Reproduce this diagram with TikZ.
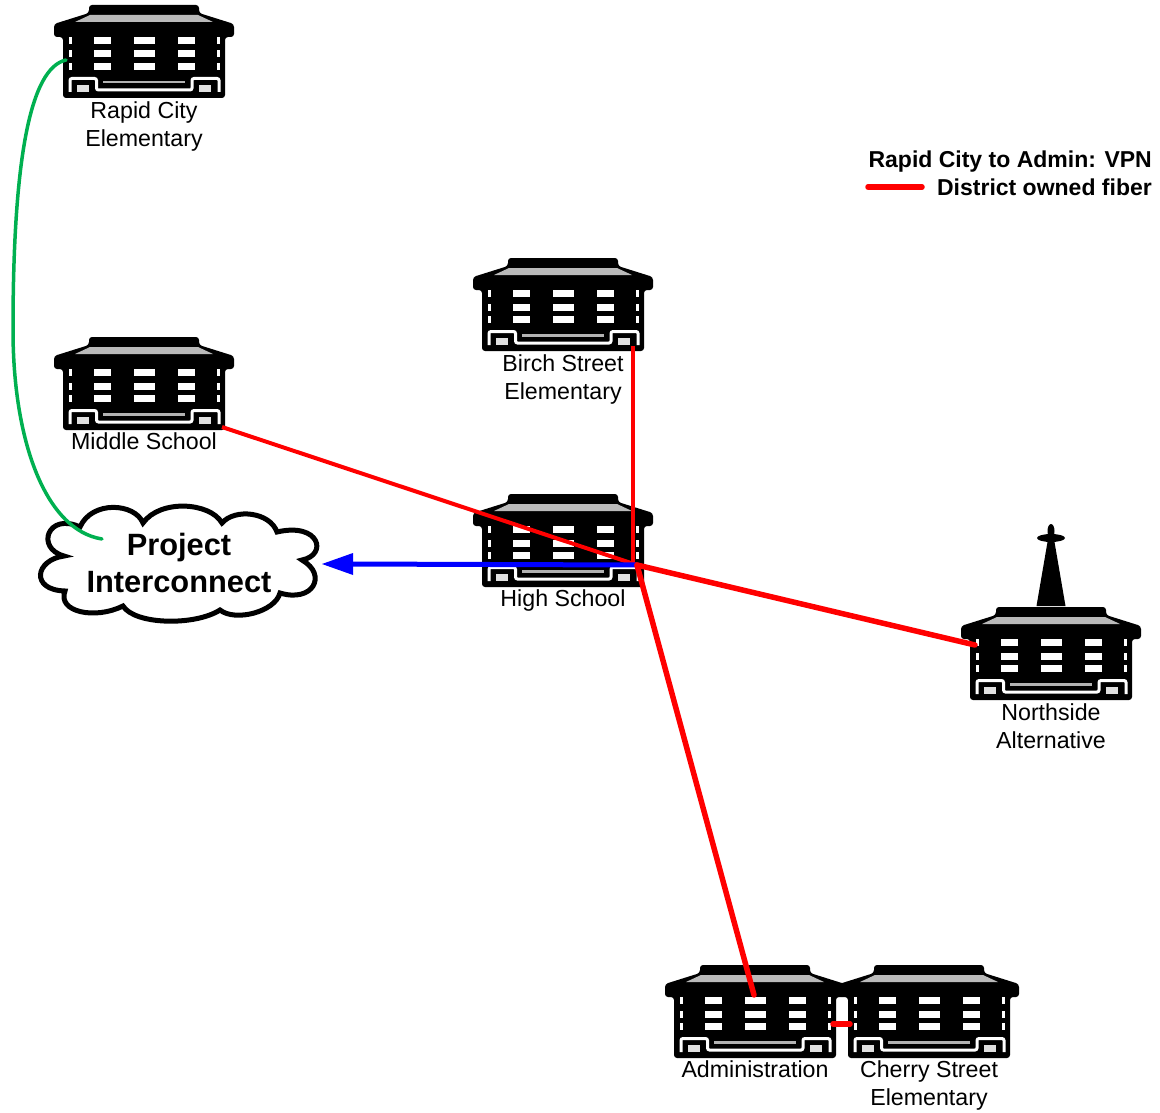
\documentclass[tikz,border=0pt]{standalone}
\usepackage{fontspec}
\setmainfont{Liberation Sans}
\tikzset{
    sitelabel/.style={align=center,font=\fontsize{23.2}{28}\selectfont,inner sep=0pt},
    boldlabel/.style={font=\fontsize{23}{28}\selectfont\bfseries,inner sep=0pt},
    fiberthin/.style={draw=red,line width=4pt},
    fiberthick/.style={draw=red,line width=5.5pt,line cap=round},
    pics/school/.style={code={
        \fill[black,rounded corners=3pt] (-55,0)--(55,0)--(55,8)--(90,19)--(90,32)--(81,32)--(81,93)--(-81,93)--(-81,32)--(-90,32)--(-90,19)--(-55,8)--cycle;
        \fill[black!27] (-69,17)--(-54,10)--(54,10)--(69,17)--cycle;
        \foreach \y in {32,45.5,58} {
            \fill[white] (-75,\y) rectangle (-72,\y+7);
            \fill[white] (73,\y) rectangle (76,\y+7);
            \fill[white] (-50,\y) rectangle (-33,\y+7);
            \fill[white] (-10,\y) rectangle (10.5,\y+7);
            \fill[white] (34,\y) rectangle (50.5,\y+7);
        }
        \draw[white,line width=3pt,rounded corners=2pt] (-74,87)--(-74,73.5)--(-47.5,73.5)--(-47.5,85)--(48,85)--(48,73.5)--(75,73.5)--(75,87);
        \fill[black!30] (-41,76)--(41,76)--(41,78.5)--(-41,78.5)--cycle;
        \fill[black!12] (-67,80) rectangle (-55,87);
        \fill[black!12] (55,80) rectangle (67,87);
    }}
}
\begin{document}
\begin{tikzpicture}[x=1pt,y=-1pt]
    \useasboundingbox (0,0) rectangle (1160,1113);
    \pic at (144,5) {school};
    \pic at (144,337) {school};
    \pic at (563,258) {school};
    \pic at (563,494) {school};
    \pic at (1051,607) {school};
    \pic at (755,965) {school};
    \pic at (929,965) {school};
    \fill[black] (1036.5,606)--(1047.5,542)--(1054.5,542)--(1065.5,606)--cycle;
    \fill[black] (1051,538) ellipse (14 and 4);
    \fill[black] (1051,531) ellipse (3.5 and 7);
    \node[sitelabel] (rapid) at (144,126.5) {Rapid City\\Elementary};
    \node[sitelabel] (middle) at (144,441) {Middle School};
    \node[sitelabel] (birch) at (563,379) {Birch Street\\Elementary};
    \node[sitelabel] (high) at (563,600) {High School};
    \node[sitelabel] (north) at (1051,726.5) {Northside\\Alternative};
    \node[sitelabel] (admin) at (755,1069.5) {Administration};
    \node[sitelabel] (cherry) at (929,1085) {Cherry Street\\Elementary};
    \coordinate (hub) at (637,565);
    \coordinate (rapidport) at (66,60);
    \coordinate (cloudport) at (102,539);
    \coordinate (cloudtip) at (322,564);
    \coordinate (middleport) at (222,427);
    \coordinate (birchport) at (633,346);
    \coordinate (hubtop) at (633,565);
    \coordinate (northport) at (975,645);
    \coordinate (adminport) at (754,995);
    \coordinate (adminside) at (833,1024);
    \coordinate (cherryside) at (850,1024);
    \coordinate (legendstart) at (868,187);
    \coordinate (legendend) at (922,187);
    \draw[line width=5pt,fill=white] (64,556)
        .. controls (35,548) and (48,512) .. (80,527)
        .. controls (92,500) and (135,503) .. (143,523)
        .. controls (160,499) and (210,502) .. (222,523)
        .. controls (235,508) and (270,512) .. (277,532)
        .. controls (320,522) and (328,555) .. (302,560)
        .. controls (328,575) and (313,603) .. (280,593)
        .. controls (275,612) and (235,622) .. (220,610)
        .. controls (195,626) and (135,625) .. (123,606)
        .. controls (95,620) and (57,612) .. (65,591)
        .. controls (30,590) and (35,560) .. (64,556)
        -- cycle;
    \node[align=center,font=\fontsize{30.8}{37}\selectfont\bfseries,inner sep=0pt] (cloud) at (179,563) {Project\\Interconnect};
    \draw[draw={rgb,255:red,0;green,176;blue,80},line width=3.5pt,line cap=round] (rapidport)
        .. controls (30,68) and (13,160) .. (13,330)
        .. controls (13,440) and (45,530) .. (cloudport);
    \draw[fiberthin] (middleport)--(hub);
    \draw[fiberthin] (birchport)--(hubtop);
    \draw[blue,line width=5pt] (hub)--(345,564);
    \fill[blue] (cloudtip)--(353,553)--(353,575)--cycle;
    \draw[fiberthick] (hub)--(northport);
    \draw[fiberthick] (hub)--(adminport);
    \draw[fiberthick] (adminside)--(cherryside);
    \draw[fiberthick] (legendstart)--(legendend);
    \node[boldlabel,anchor=east] (vpn) at (1152,162) {Rapid City to Admin: VPN};
    \node[boldlabel,anchor=east] (fiber) at (1152,187) {District owned fiber};
\end{tikzpicture}
\end{document}
